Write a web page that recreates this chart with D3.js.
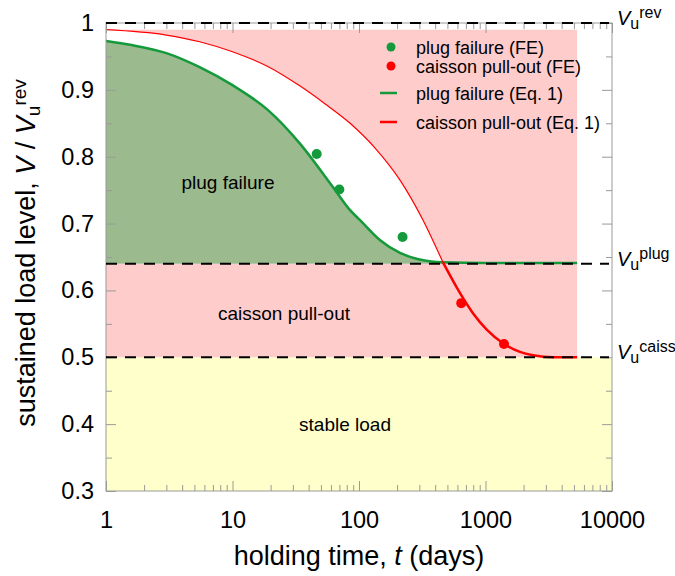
<!DOCTYPE html>
<html>
<head>
<meta charset="utf-8">
<script src="https://cdn.jsdelivr.net/npm/d3@7"></script>
<style>
body { margin: 0; background: #fff; }
svg text { font-family: Arial, "Liberation Sans", sans-serif; fill: #000; }
</style>
</head>
<body>
<svg id="chart" width="675" height="576"></svg>
<script>
// Eq. 1 curves (t in days, V / Vu_rev)
const plugT = [1, 1.6, 3, 5.5, 10, 19, 34, 62, 85, 102, 147, 211, 290, 461, 1000, 5300];
const plugV = [0.973, 0.967, 0.955, 0.934, 0.907, 0.870, 0.820, 0.755, 0.720, 0.705, 0.675, 0.656, 0.647, 0.642, 0.641, 0.641];
const caissT = [1, 3, 5.5, 10, 19, 34, 54, 85, 134, 211, 321, 461, 629, 796, 1027, 1375, 1874, 2373, 3419, 5300];
const caissV = [0.990, 0.982, 0.972, 0.957, 0.935, 0.906, 0.879, 0.850, 0.813, 0.765, 0.705, 0.642, 0.596, 0.566, 0.541, 0.521, 0.508, 0.503, 0.500, 0.500];

// FE results
const plugFeT = [46.3, 69.9, 221];
const plugFeV = [0.804, 0.751, 0.680];
const caissFeT = [643, 1400];
const caissFeV = [0.581, 0.520];

// reference levels
const levelNames = ["rev", "plug", "caiss"];
const levelValues = [1.0, 0.64, 0.5];
const crossT = 461;      // where the caisson curve drops below Vu_plug
const regionEndT = 5300; // right end of the shaded pull-out zone
const regionTopV = 0.99;

const xTicks = [1, 10, 100, 1000, 10000];
const yTicks = [0.3, 0.4, 0.5, 0.6, 0.7, 0.8, 0.9, 1];

const regionLabels = ["plug failure", "caisson pull-out", "stable load"];
const legendLabels = ["plug failure (FE)", "caisson pull-out (FE)", "plug failure (Eq. 1)", "caisson pull-out (Eq. 1)"];

const green = "#149a3a", red = "#ff0000";
const mLeft = 106, mRight = 612, mTop = 23, mBottom = 491;

const svg = d3.select("#chart");
const x = d3.scaleLog().domain([1, 10000]).range([mLeft, mRight]);
const y = d3.scaleLinear().domain([0.3, 1]).range([mBottom, mTop]);

const plug = plugT.map((t, i) => [t, plugV[i]]);
const caiss = caissT.map((t, i) => [t, caissV[i]]);
const caissUpper = caiss.filter(d => d[0] <= crossT);
const caissLower = caiss.filter(d => d[0] >= crossT);

svg.append("defs").append("clipPath").attr("id", "clip")
	.append("rect").attr("x", mLeft).attr("y", mTop).attr("width", mRight - mLeft).attr("height", mBottom - mTop);
const plot = svg.append("g").attr("clip-path", "url(#clip)");

// zones
plot.append("rect")
	.attr("x", mLeft).attr("width", mRight - mLeft)
	.attr("y", y(0.5)).attr("height", y(0.3) - y(0.5))
	.attr("fill", "#ffffcc");
plot.append("rect")
	.attr("x", x(1)).attr("width", x(regionEndT) - x(1))
	.attr("y", y(regionTopV)).attr("height", y(0.5) - y(regionTopV))
	.attr("fill", "#ffcccc");

const area = d3.area()
	.x(d => x(d[0]))
	.y0(y(0.64))
	.y1(d => y(d[1]))
	.curve(d3.curveMonotoneX);
plot.append("path").attr("d", area(caissUpper)).attr("fill", "#fff");
plot.append("path").attr("d", area(plug)).attr("fill", "#9bba8e");

// ticks (inward, grey)
const minorX = [];
for (let p = 0; p < 4; p++) for (let k = 2; k < 10; k++) minorX.push(k * Math.pow(10, p));
const minorY = d3.range(0.35, 1, 0.1);

function tickGroup(axis) {
	const g = svg.append("g").call(axis);
	g.select(".domain").remove();
	g.selectAll(".tick line").attr("stroke", "#9a9a9a");
	g.selectAll(".tick text").attr("font-size", "23.5px");
	return g;
}

tickGroup(d3.axisBottom(x).tickValues(xTicks).tickFormat(d3.format("d")).tickSize(-10).tickPadding(20))
	.attr("transform", `translate(0,${mBottom})`);
tickGroup(d3.axisBottom(x).tickValues(minorX).tickFormat("").tickSize(-6))
	.attr("transform", `translate(0,${mBottom})`);
tickGroup(d3.axisTop(x).tickValues(xTicks).tickFormat("").tickSize(-10))
	.attr("transform", `translate(0,${mTop})`);
tickGroup(d3.axisTop(x).tickValues(minorX).tickFormat("").tickSize(-6))
	.attr("transform", `translate(0,${mTop})`);
tickGroup(d3.axisLeft(y).tickValues(yTicks).tickFormat(d3.format("")).tickSize(-10).tickPadding(12))
	.attr("transform", `translate(${mLeft},0)`);
tickGroup(d3.axisLeft(y).tickValues(minorY).tickFormat("").tickSize(-6))
	.attr("transform", `translate(${mLeft},0)`);
tickGroup(d3.axisRight(y).tickValues(yTicks).tickFormat("").tickSize(-10))
	.attr("transform", `translate(${mRight},0)`);
tickGroup(d3.axisRight(y).tickValues(minorY).tickFormat("").tickSize(-6))
	.attr("transform", `translate(${mRight},0)`);

svg.append("rect")
	.attr("x", mLeft).attr("y", mTop).attr("width", mRight - mLeft).attr("height", mBottom - mTop)
	.attr("fill", "none").attr("stroke", "#9a9a9a");

// reference levels
svg.selectAll(".level").data(levelValues).enter().append("line")
	.attr("x1", mLeft).attr("x2", mRight - 3)
	.attr("y1", d => y(d)).attr("y2", d => y(d))
	.attr("stroke", "#000").attr("stroke-width", 2).attr("stroke-dasharray", "11,8");

levelNames.forEach((name, i) => {
	const t = svg.append("text").attr("x", 617).attr("y", y(levelValues[i]) + 2);
	t.append("tspan").attr("font-size", "20px").attr("font-style", "italic").text("V");
	t.append("tspan").attr("font-size", "16px").attr("dy", 4).text("u");
	t.append("tspan").attr("font-size", "16px").attr("dy", -11).text(name);
});

// Eq. 1 curves
const line = d3.line().x(d => x(d[0])).y(d => y(d[1])).curve(d3.curveMonotoneX);
plot.append("path").attr("d", line(plug)).attr("fill", "none").attr("stroke", green).attr("stroke-width", 2.5);
plot.append("path").attr("d", line(caissUpper)).attr("fill", "none").attr("stroke", red).attr("stroke-width", 1.2);
plot.append("path").attr("d", line(caissLower)).attr("fill", "none").attr("stroke", red).attr("stroke-width", 2.5);

// FE points
plot.selectAll(".pfe").data(plugFeT).enter().append("circle")
	.attr("cx", d => x(d)).attr("cy", (d, i) => y(plugFeV[i])).attr("r", 5).attr("fill", green);
plot.selectAll(".cfe").data(caissFeT).enter().append("circle")
	.attr("cx", d => x(d)).attr("cy", (d, i) => y(caissFeV[i])).attr("r", 5).attr("fill", red);

// zone labels
const labelPos = [[228, 189], [284, 320], [345, 431]];
regionLabels.forEach((s, i) => {
	svg.append("text").attr("x", labelPos[i][0]).attr("y", labelPos[i][1])
		.attr("text-anchor", "middle").attr("font-size", "19px").text(s);
});

// legend
const legendY = [47, 66, 93, 122];
const legendColors = [green, red, green, red];
legendLabels.forEach((s, i) => {
	if (i < 2) {
		svg.append("circle").attr("cx", 391).attr("cy", legendY[i]).attr("r", 4.5).attr("fill", legendColors[i]);
	} else {
		svg.append("line").attr("x1", 380).attr("x2", 397).attr("y1", legendY[i]).attr("y2", legendY[i])
			.attr("stroke", legendColors[i]).attr("stroke-width", 2.5);
	}
	svg.append("text").attr("x", 416).attr("y", legendY[i] + 6.5).attr("font-size", "18px").text(s);
});

// axis titles
const xt = svg.append("text").attr("x", (mLeft + mRight) / 2).attr("y", 565)
	.attr("text-anchor", "middle").attr("font-size", "27px");
xt.append("tspan").text("holding time, ");
xt.append("tspan").attr("font-style", "italic").text("t");
xt.append("tspan").text(" (days)");

const yt = svg.append("text").attr("transform", "translate(35,253) rotate(-90)")
	.attr("text-anchor", "middle").attr("font-size", "27px");
yt.append("tspan").text("sustained load level, ");
yt.append("tspan").attr("font-style", "italic").text("V");
yt.append("tspan").text(" / ");
yt.append("tspan").attr("font-style", "italic").text("V");
yt.append("tspan").attr("font-size", "19px").attr("dy", 5).text("u");
yt.append("tspan").attr("font-size", "19px").attr("dy", -14).text("rev");
</script>
</body>
</html>
